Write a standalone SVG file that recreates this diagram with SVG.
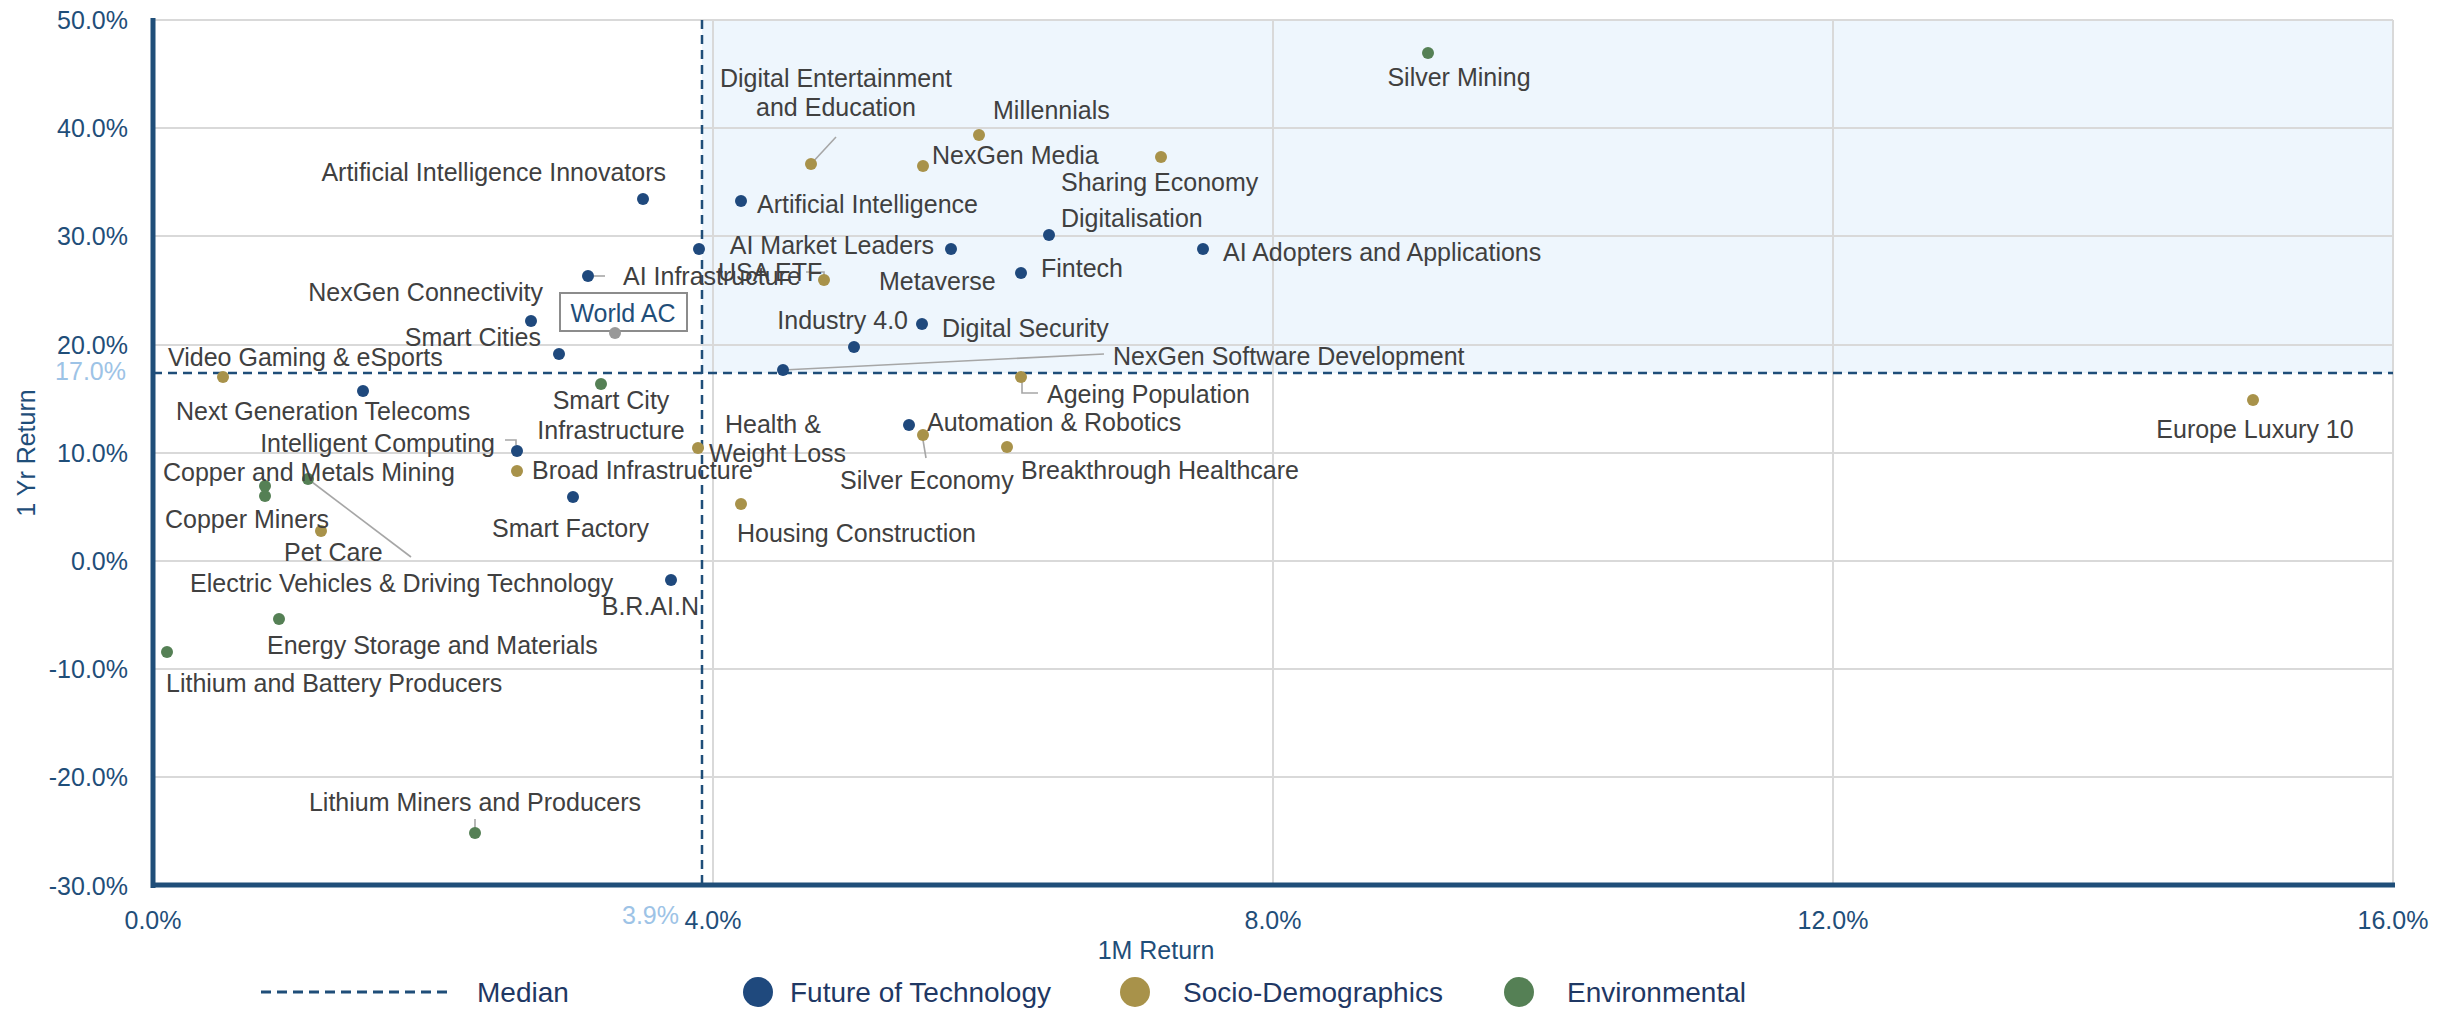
<svg xmlns="http://www.w3.org/2000/svg" width="2445" height="1009" viewBox="0 0 2445 1009">
<style>
text{font-family:"Liberation Sans",Arial,sans-serif}
.lbl{font-size:25px;fill:#404040}
.tick{font-size:25px;fill:#1F4E79}
.leg{font-size:28px;fill:#1F3864}
.grid{stroke:#D9D9D9;stroke-width:2;fill:none}
.lead{stroke:#A6A6A6;stroke-width:1.6;fill:none}
.b{fill:#1F497D}
.g{fill:#A8924A}
.e{fill:#558055}
</style>
<rect width="2445" height="1009" fill="#FFFFFF"/>
<g id="plot-area">
<rect x="702" y="20" width="1691" height="353" fill="#EEF6FD"/>
<path class="grid" d="M153 20H2393M153 128H2393M153 236H2393M153 345H2393M153 453H2393M153 561H2393M153 669H2393M153 777H2393"/>
<path class="grid" d="M713 20V885M1273 20V885M1833 20V885M2393 20V885"/>
<path d="M153 18V888M151 885H2395" stroke="#1F4E79" stroke-width="5" fill="none"/>
</g>
<g id="axes-labels">
<g class="tick" text-anchor="end">
<text x="128" y="29">50.0%</text>
<text x="128" y="137">40.0%</text>
<text x="128" y="245">30.0%</text>
<text x="128" y="354">20.0%</text>
<text x="128" y="462">10.0%</text>
<text x="128" y="570">0.0%</text>
<text x="128" y="678">-10.0%</text>
<text x="128" y="786">-20.0%</text>
<text x="128" y="895">-30.0%</text>
<text x="126" y="380" fill="#9DC3E6" style="fill:#9DC3E6">17.0%</text>
</g>
<g class="tick" text-anchor="middle">
<text x="153" y="929">0.0%</text>
<text x="713" y="929">4.0%</text>
<text x="1273" y="929">8.0%</text>
<text x="1833" y="929">12.0%</text>
<text x="2393" y="929">16.0%</text>
<text x="1156" y="959">1M Return</text>
</g>
<text class="tick" x="679" y="924" text-anchor="end" style="fill:#9DC3E6">3.9%</text>
<text class="tick" transform="translate(35 453) rotate(-90)" text-anchor="middle">1 Yr Return</text>
</g>
<g id="median">
<path d="M702 20V885M153 373H2393" stroke="#1F4E79" stroke-width="2.5" stroke-dasharray="9 6" fill="none"/>
</g>
<g id="connectors">
<path class="lead" d="M811 164L836 137"/>
<path class="lead" d="M594 276H605"/>
<path class="lead" d="M806 272H824V276"/>
<path class="lead" d="M783 370L1104 354"/>
<path class="lead" d="M1022 380V393H1038"/>
<path class="lead" d="M505 440H516V445"/>
<path class="lead" d="M923 440L926 458"/>
<path class="lead" d="M308 479L411 557"/>
<path class="lead" d="M475 819V828"/>
</g>
<g id="node-world-ac">
<rect x="560" y="293" width="127" height="38" fill="#FFFFFF" stroke="#8C8C8C" stroke-width="2"/>
<text x="623" y="322" text-anchor="middle" font-size="25" fill="#1F4E79">World AC</text>
<circle cx="615" cy="333" r="6" fill="#999999"/>
</g>
<g id="node-ai-innovators"><circle class="b" cx="643" cy="199" r="6"/><text class="lbl" x="666" y="181" text-anchor="end">Artificial Intelligence Innovators</text></g>
<g id="node-artificial-intelligence"><circle class="b" cx="741" cy="201" r="6"/><text class="lbl" x="757" y="213">Artificial Intelligence</text></g>
<g id="node-ai-market-leaders"><circle class="b" cx="699" cy="249" r="6"/><text class="lbl" x="934" y="254" text-anchor="end">AI Market Leaders</text></g>
<g id="node-metaverse"><circle class="b" cx="951" cy="249" r="6"/><text class="lbl" x="879" y="290">Metaverse</text></g>
<g id="node-digitalisation"><circle class="b" cx="1049" cy="235" r="6"/><text class="lbl" x="1061" y="227">Digitalisation</text></g>
<g id="node-ai-adopters"><circle class="b" cx="1203" cy="249" r="6"/><text class="lbl" x="1223" y="261">AI Adopters and Applications</text></g>
<g id="node-fintech"><circle class="b" cx="1021" cy="273" r="6"/><text class="lbl" x="1041" y="277">Fintech</text></g>
<g id="node-ai-infrastructure"><circle class="b" cx="588" cy="276" r="6"/><text class="lbl" x="623" y="285">AI Infrastructure</text></g>
<g id="node-nexgen-connectivity"><circle class="b" cx="531" cy="321" r="6"/><text class="lbl" x="543" y="301" text-anchor="end">NexGen Connectivity</text></g>
<g id="node-smart-cities"><circle class="b" cx="559" cy="354" r="6"/><text class="lbl" x="541" y="346" text-anchor="end">Smart Cities</text></g>
<g id="node-digital-security"><circle class="b" cx="922" cy="324" r="6"/><text class="lbl" x="942" y="337">Digital Security</text></g>
<g id="node-industry-4"><circle class="b" cx="854" cy="347" r="6"/><text class="lbl" x="908" y="329" text-anchor="end">Industry 4.0</text></g>
<g id="node-nexgen-software"><circle class="b" cx="783" cy="370" r="6"/><text class="lbl" x="1113" y="365">NexGen Software Development</text></g>
<g id="node-next-gen-telecoms"><circle class="b" cx="363" cy="391" r="6"/><text class="lbl" x="176" y="420">Next Generation Telecoms</text></g>
<g id="node-intelligent-computing"><circle class="b" cx="517" cy="451" r="6"/><text class="lbl" x="495" y="452" text-anchor="end">Intelligent Computing</text></g>
<g id="node-automation-robotics"><circle class="b" cx="909" cy="425" r="6"/><text class="lbl" x="927" y="431">Automation &amp; Robotics</text></g>
<g id="node-smart-factory"><circle class="b" cx="573" cy="497" r="6"/><text class="lbl" x="492" y="537">Smart Factory</text></g>
<g id="node-brain"><circle class="b" cx="671" cy="580" r="6"/><text class="lbl" x="699" y="615" text-anchor="end">B.R.AI.N</text></g>
<g id="node-millennials"><circle class="g" cx="979" cy="135" r="6"/><text class="lbl" x="993" y="119">Millennials</text></g>
<g id="node-digital-entertainment"><circle class="g" cx="811" cy="164" r="6"/><text class="lbl" x="836" y="87" text-anchor="middle">Digital Entertainment</text><text class="lbl" x="836" y="116" text-anchor="middle">and Education</text></g>
<g id="node-nexgen-media"><circle class="g" cx="923" cy="166" r="6"/><text class="lbl" x="932" y="164">NexGen Media</text></g>
<g id="node-sharing-economy"><circle class="g" cx="1161" cy="157" r="6"/><text class="lbl" x="1061" y="191">Sharing Economy</text></g>
<g id="node-usa-etf"><circle class="g" cx="824" cy="280" r="6"/><text class="lbl" x="718" y="281">USA ETF</text></g>
<g id="node-video-gaming"><circle class="g" cx="223" cy="377" r="6"/><text class="lbl" x="168" y="366">Video Gaming &amp; eSports</text></g>
<g id="node-ageing-population"><circle class="g" cx="1021" cy="377" r="6"/><text class="lbl" x="1047" y="403">Ageing Population</text></g>
<g id="node-health-weight-loss"><circle class="g" cx="698" cy="448" r="6"/><text class="lbl" x="725" y="433">Health &amp;</text><text class="lbl" x="709" y="462">Weight Loss</text></g>
<g id="node-silver-economy"><circle class="g" cx="923" cy="435" r="6"/><text class="lbl" x="840" y="489">Silver Economy</text></g>
<g id="node-breakthrough-healthcare"><circle class="g" cx="1007" cy="447" r="6"/><text class="lbl" x="1021" y="479">Breakthrough Healthcare</text></g>
<g id="node-broad-infrastructure"><circle class="g" cx="517" cy="471" r="6"/><text class="lbl" x="532" y="479">Broad Infrastructure</text></g>
<g id="node-housing-construction"><circle class="g" cx="741" cy="504" r="6"/><text class="lbl" x="737" y="542">Housing Construction</text></g>
<g id="node-pet-care"><circle class="g" cx="321" cy="531" r="6"/><text class="lbl" x="284" y="561">Pet Care</text></g>
<g id="node-europe-luxury"><circle class="g" cx="2253" cy="400" r="6"/><text class="lbl" x="2255" y="438" text-anchor="middle">Europe Luxury 10</text></g>
<g id="node-silver-mining"><circle class="e" cx="1428" cy="53" r="6"/><text class="lbl" x="1459" y="86" text-anchor="middle">Silver Mining</text></g>
<g id="node-smart-city-infrastructure"><circle class="e" cx="601" cy="384" r="6"/><text class="lbl" x="611" y="409" text-anchor="middle">Smart City</text><text class="lbl" x="611" y="439" text-anchor="middle">Infrastructure</text></g>
<g id="node-ev-driving"><circle class="e" cx="308" cy="479" r="6"/><text class="lbl" x="190" y="592">Electric Vehicles &amp; Driving Technology</text></g>
<g id="node-copper-metals"><circle class="e" cx="265" cy="486" r="6"/><text class="lbl" x="163" y="481">Copper and Metals Mining</text></g>
<g id="node-copper-miners"><circle class="e" cx="265" cy="496" r="6"/><text class="lbl" x="165" y="528">Copper Miners</text></g>
<g id="node-energy-storage"><circle class="e" cx="279" cy="619" r="6"/><text class="lbl" x="267" y="654">Energy Storage and Materials</text></g>
<g id="node-lithium-battery"><circle class="e" cx="167" cy="652" r="6"/><text class="lbl" x="166" y="692">Lithium and Battery Producers</text></g>
<g id="node-lithium-miners"><circle class="e" cx="475" cy="833" r="6"/><text class="lbl" x="475" y="811" text-anchor="middle">Lithium Miners and Producers</text></g>
<g id="legend">
<path d="M261 992H450" stroke="#1F4E79" stroke-width="3" stroke-dasharray="10 6"/>
<text class="leg" x="477" y="1002">Median</text>
<circle cx="758" cy="992" r="15" fill="#1F497D"/>
<text class="leg" x="790" y="1002">Future of Technology</text>
<circle cx="1135" cy="992" r="15" fill="#A8924A"/>
<text class="leg" x="1183" y="1002">Socio-Demographics</text>
<circle cx="1519" cy="992" r="15" fill="#558055"/>
<text class="leg" x="1567" y="1002">Environmental</text>
</g>
</svg>
